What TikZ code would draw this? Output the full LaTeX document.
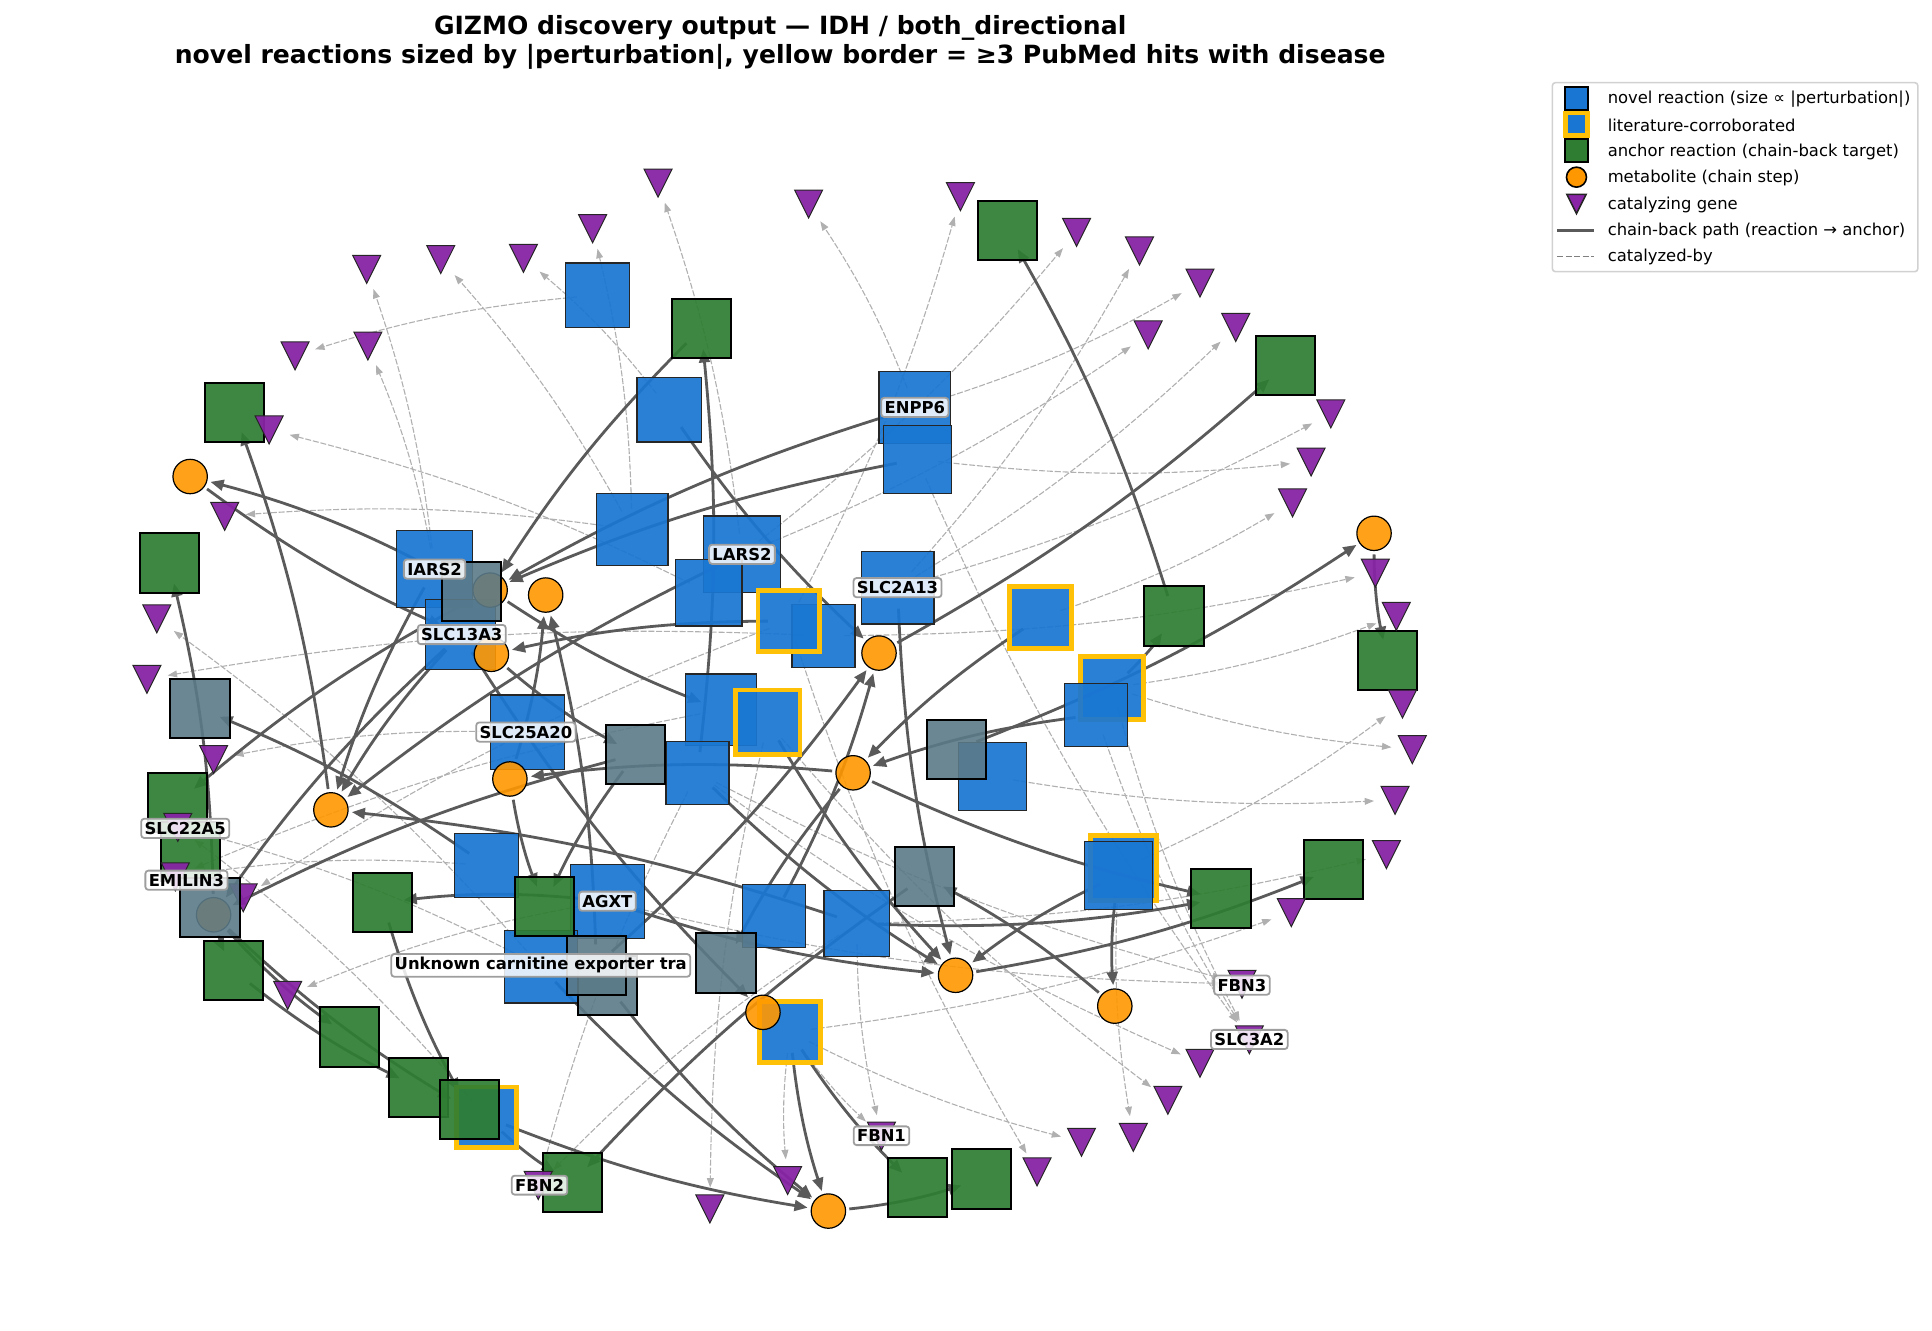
\documentclass[tikz,border=0pt]{standalone}
\usepackage{fontspec}
\setmainfont{DejaVu Sans}
\usetikzlibrary{arrows.meta}
\usetikzlibrary{backgrounds}
\usetikzlibrary{shapes.geometric}

\definecolor{novelblue}{HTML}{1976D2}
\definecolor{litgold}{HTML}{FFC107}
\definecolor{anchorgreen}{HTML}{2E7D32}
\definecolor{metorange}{HTML}{FF9800}
\definecolor{genepurple}{HTML}{8824A5}
\definecolor{mixgray}{HTML}{5B7A88}
\definecolor{chainline}{HTML}{5A5A5A}
\definecolor{catline}{HTML}{B0B0B0}

\tikzset{
  novel/.style={rectangle, inner sep=0pt, outer sep=0pt, draw=black!85, line width=0.6pt, fill=novelblue, fill opacity=0.93, minimum size=#1*0.6172pt},
  lit/.style={rectangle, inner sep=0pt, outer sep=0pt, draw=litgold, line width=2.4pt, fill=novelblue, fill opacity=0.93, minimum size=#1*0.6172pt},
  anchorsq/.style={rectangle, inner sep=0pt, outer sep=0pt, draw=black, line width=1pt, fill=anchorgreen, fill opacity=0.92, minimum size=29.6pt},
  mixsq/.style={anchorsq, fill=mixgray, fill opacity=0.9},
  met/.style={circle, inner sep=0pt, outer sep=0pt, draw=black, line width=0.6pt, fill=metorange, fill opacity=0.9, minimum size=17.2pt},
  gene/.style={isosceles triangle, isosceles triangle stretches, shape border rotate=-90, inner sep=0pt, outer sep=0pt, draw=black!85, line width=0.5pt, fill=genepurple, fill opacity=0.95, minimum width=14pt, minimum height=14pt, yshift=2.5pt},
  genelabel/.style={rectangle, rounded corners=1.5pt, inner sep=1.7pt, draw=black!38, line width=0.9pt, fill=white, fill opacity=0.85, text opacity=1, font=\fontsize{8.2}{10}\selectfont\bfseries},
  chain/.style={color=chainline, line width=1.4pt, -{Triangle[length=6.6pt,width=5.4pt]}, bend right=6, shorten >=10.5pt, shorten <=10.5pt},
  catal/.style={color=catline, line width=0.55pt, dash pattern=on 3pt off 0.9pt, -{Triangle[length=4.7pt,width=3.4pt]}, bend right=6, shorten >=10.5pt, shorten <=10.5pt},
  legendtext/.style={anchor=west, inner sep=0pt, font=\fontsize{8.2}{10}\selectfont},
  titletext/.style={inner sep=0pt, font=\fontsize{12.54}{15}\selectfont\bfseries}
}

\begin{document}
\begin{tikzpicture}[x=0.6172pt, y=-0.6172pt]
  \useasboundingbox (0,0) rectangle (1565,1077.4);

  \begin{scope}[xshift=-0.6pt]
  % novel reactions
  \node [novel=52] (r_1)  at (485,239) {};
  \node [novel=52] (r_2)  at (543,332) {};
  \node [novel=58] (r_3)  at (742,330) {};
  \node [novel=55] (r_4)  at (744,372) {};
  \node [novel=58] (r_5)  at (513,429) {};
  \node [novel=62] (r_6)  at (602,449) {};
  \node [novel=62] (r_7)  at (353,461) {};
  \node [novel=54] (r_8)  at (575,480) {};
  \node [novel=59] (r_9)  at (728,476) {};
  \node [novel=57] (r_10) at (374,514) {};
  \node [novel=51] (r_11) at (668,515) {};
  \node [novel=58] (r_16) at (585,575) {};
  \node [novel=60] (r_18) at (428,593) {};
  \node [novel=51] (r_19) at (566,626) {};
  \node [novel=55] (r_20) at (805,629) {};
  \node [novel=52] (r_21) at (395,701) {};
  \node [novel=60] (r_22) at (493,730) {};
  \node [novel=51] (r_23) at (628,742) {};
  \node [novel=53] (r_24) at (695,748) {};
  \node [novel=59] (r_27) at (439,783) {};

  % literature-corroborated ones
  \node [lit=50] (r_12) at (640,503) {};
  \node [lit=50] (r_13) at (844,500) {};
  \node [lit=51] (r_14) at (902,557) {};
  \node [lit=52] (r_17) at (623,585) {};
  \node [lit=53] (r_25) at (911,703) {};
  \node [lit=49] (r_28) at (641,836) {};
  \node [lit=49] (r_29) at (395,905) {};
  \node [novel=51] (r_15) at (889,579) {};
  \node [novel=55] (r_26) at (907,709) {};

  % anchors
  \node [anchorsq] (a_1)  at (569,266) {};
  \node [anchorsq] (a_2)  at (817,187) {};
  \node [anchorsq] (a_3)  at (1042,296) {};
  \node [anchorsq] (a_4)  at (191,334) {};
  \node [anchorsq] (a_5)  at (138,456) {};
  \node [anchorsq] (a_6)  at (952,499) {};
  \node [anchorsq] (a_7)  at (1125,535) {};
  \node [anchorsq] (a_8)  at (145,650) {};
  \node [anchorsq] (a_9)  at (155,690) {};
  \node [anchorsq] (a_10) at (311,731) {};
  \node [anchorsq] (a_11) at (442,734) {};
  \node [anchorsq] (a_12) at (990,728) {};
  \node [anchorsq] (a_13) at (1081,704) {};
  \node [anchorsq] (a_14) at (190,786) {};
  \node [anchorsq] (a_15) at (284,840) {};
  \node [anchorsq] (a_16) at (340,881) {};
  \node [anchorsq] (a_17) at (381,899) {};
  \node [anchorsq] (a_18) at (465,958) {};
  \node [anchorsq] (a_19) at (744,962) {};
  \node [anchorsq] (a_20) at (796,955) {};

  % metabolites
  \node [met] (m_1)  at (155,386) {};
  \node [met] (m_2)  at (398,478) {};
  \node [met] (m_3)  at (443,482) {};
  \node [met] (m_4)  at (399,530) {};
  \node [met] (m_5)  at (713,529) {};
  \node [met] (m_6)  at (1114,432) {};
  \node [met] (m_7)  at (692,626) {};
  \node [met] (m_8)  at (414,631) {};
  \node [met] (m_9)  at (269,656) {};
  \node [met] (m_10) at (174,741) {};
  \node [met] (m_11) at (775,790) {};
  \node [met] (m_12) at (904,815) {};
  \node [met] (m_13) at (619,820) {};
  \node [met] (m_14) at (672,981) {};

  % genes
  \node [gene] (g_1)  at (534,148) {};
  \node [gene] (g_2)  at (656,165) {};
  \node [gene] (g_3)  at (779,159) {};
  \node [gene] (g_4)  at (873,188) {};
  \node [gene] (g_5)  at (924,203) {};
  \node [gene] (g_6)  at (973,229) {};
  \node [gene] (g_7)  at (1002,265) {};
  \node [gene] (g_8)  at (931,271) {};
  \node [gene] (g_9)  at (1079,335) {};
  \node [gene] (g_10) at (1063,374) {};
  \node [gene] (g_11) at (1048,407) {};
  \node [gene] (g_12) at (1115,464) {};
  \node [gene] (g_13) at (1132,499) {};
  \node [gene] (g_14) at (1137,570) {};
  \node [gene] (g_15) at (1145,607) {};
  \node [gene] (g_16) at (1131,648) {};
  \node [gene] (g_17) at (1124,692) {};
  \node [gene] (g_18) at (1047,739) {};
  \node [gene] (g_19) at (1007,797) {};
  \node [gene] (g_20) at (1013,842) {};
  \node [gene] (g_21) at (973,861) {};
  \node [gene] (g_22) at (947,891) {};
  \node [gene] (g_23) at (919,921) {};
  \node [gene] (g_24) at (877,925) {};
  \node [gene] (g_25) at (841,949) {};
  \node [gene] (g_26) at (715,920) {};
  \node [gene] (g_27) at (639,956) {};
  \node [gene] (g_28) at (576,979) {};
  \node [gene] (g_29) at (437,960) {};
  \node [gene] (g_30) at (234,806) {};
  \node [gene] (g_31) at (198,727) {};
  \node [gene] (g_32) at (145,670) {};
  \node [gene] (g_33) at (143,710) {};
  \node [gene] (g_34) at (174,615) {};
  \node [gene] (g_35) at (120,550) {};
  \node [gene] (g_36) at (128,501) {};
  \node [gene] (g_37) at (183,418) {};
  \node [gene] (g_38) at (219,348) {};
  \node [gene] (g_39) at (240,288) {};
  \node [gene] (g_40) at (299,280) {};
  \node [gene] (g_41) at (298,218) {};
  \node [gene] (g_42) at (358,210) {};
  \node [gene] (g_43) at (425,209) {};
  \node [gene] (g_44) at (481,185) {};

  % reaction and anchor at once
  \node [mixsq] (h_1) at (383,479) {};
  \node [mixsq] (h_2) at (163,574) {};
  \node [mixsq] (h_3) at (516,611) {};
  \node [mixsq] (h_4) at (776,607) {};
  \node [mixsq] (h_5) at (750,710) {};
  \node [mixsq] (h_6) at (171,735) {};
  \node [mixsq] (h_7) at (589,780) {};
  \node [mixsq] (h_9) at (493,798) {};
  \node [mixsq] (h_8) at (484,782) {};

  % catalyzed-by
  \begin{scope}[on background layer]
    \path [catal] (r_6.center) edge ([yshift=-2.5pt]g_1.center)
                  (r_3.center) edge ([yshift=-2.5pt]g_2.center)
                  (r_12.center) edge ([yshift=-2.5pt]g_3.center)
                  (r_6.center) edge ([yshift=-2.5pt]g_4.center)
                  (r_9.center) edge ([yshift=-2.5pt]g_5.center)
                  (r_3.center) edge ([yshift=-2.5pt]g_6.center)
                  (r_9.center) edge ([yshift=-2.5pt]g_7.center)
                  (r_6.center) edge ([yshift=-2.5pt]g_8.center)
                  (r_9.center) edge ([yshift=-2.5pt]g_9.center)
                  (r_4.center) edge ([yshift=-2.5pt]g_10.center)
                  (r_13.center) edge ([yshift=-2.5pt]g_11.center)
                  (r_11.center) edge ([yshift=-2.5pt]g_12.center)
                  (r_14.center) edge ([yshift=-2.5pt]g_13.center)
                  (r_25.center) edge ([yshift=-2.5pt]g_14.center)
                  (r_14.center) edge ([yshift=-2.5pt]g_15.center)
                  (r_20.center) edge ([yshift=-2.5pt]g_16.center)
                  (r_24.center) edge ([yshift=-2.5pt]g_17.center)
                  (r_28.center) edge ([yshift=-2.5pt]g_18.center)
                  (r_19.center) edge ([yshift=-2.5pt]g_19.center)
                  (r_22.center) edge ([yshift=-2.5pt]g_19.center)
                  (r_14.center) edge ([yshift=-2.5pt]g_20.center)
                  (r_15.center) edge ([yshift=-2.5pt]g_20.center)
                  (r_4.center) edge ([yshift=-2.5pt]g_20.center)
                  (r_19.center) edge ([yshift=-2.5pt]g_21.center)
                  (r_17.center) edge ([yshift=-2.5pt]g_22.center)
                  (r_26.center) edge ([yshift=-2.5pt]g_23.center)
                  (r_28.center) edge ([yshift=-2.5pt]g_24.center)
                  (r_12.center) edge ([yshift=-2.5pt]g_25.center)
                  (r_28.center) edge ([yshift=-2.5pt]g_26.center)
                  (r_24.center) edge ([yshift=-2.5pt]g_26.center)
                  (r_28.center) edge ([yshift=-2.5pt]g_27.center)
                  (r_17.center) edge ([yshift=-2.5pt]g_28.center)
                  (r_19.center) edge ([yshift=-2.5pt]g_29.center)
                  (r_24.center) edge ([yshift=-2.5pt]g_29.center)
                  (r_22.center) edge ([yshift=-2.5pt]g_30.center)
                  (r_12.center) edge ([yshift=-2.5pt]g_31.center)
                  (r_27.center) edge ([yshift=-2.5pt]g_32.center)
                  (r_29.center) edge ([yshift=-2.5pt]g_32.center)
                  (r_16.center) edge ([yshift=-2.5pt]g_33.center)
                  (r_21.center) edge ([yshift=-2.5pt]g_33.center)
                  (r_18.center) edge ([yshift=-2.5pt]g_34.center)
                  (r_11.center) edge ([yshift=-2.5pt]g_35.center)
                  (r_27.center) edge ([yshift=-2.5pt]g_36.center)
                  (r_5.center) edge ([yshift=-2.5pt]g_37.center)
                  (r_8.center) edge ([yshift=-2.5pt]g_38.center)
                  (r_1.center) edge ([yshift=-2.5pt]g_39.center)
                  (r_7.center) edge ([yshift=-2.5pt]g_40.center)
                  (r_7.center) edge ([yshift=-2.5pt]g_41.center)
                  (r_5.center) edge ([yshift=-2.5pt]g_42.center)
                  (r_2.center) edge ([yshift=-2.5pt]g_43.center)
                  (r_5.center) edge ([yshift=-2.5pt]g_44.center);

    % chain-back
    \path [chain] (r_19.center) edge (a_1.center)
                  (a_1.center) edge (m_2.center)
                  (a_6.center) edge (a_2.center)
                  (m_5.center) edge (a_3.center)
                  (h_4.center) edge (m_6.center)
                  (r_7.center) edge (m_1.center)
                  (m_1.center) edge (r_10.center)
                  (m_9.center) edge (a_4.center)
                  (m_10.center) edge (a_5.center)
                  (r_3.center) edge (m_2.center)
                  (r_4.center) edge (m_2.center)
                  (m_8.center) edge (m_3.center)
                  (h_8.center) edge (m_3.center)
                  (r_12.center) edge (m_4.center)
                  (m_4.center) edge (h_3.center)
                  (r_10.center) edge (m_13.center)
                  (r_7.center) edge (m_9.center)
                  (r_10.center) edge (m_9.center)
                  (r_6.center) edge (m_9.center)
                  (m_2.center) edge (a_8.center)
                  (m_2.center) edge (r_16.center)
                  (r_10.center) edge (m_10.center)
                  (h_3.center) edge (m_10.center)
                  (m_7.center) edge (m_8.center)
                  (m_7.center) edge (a_12.center)
                  (m_7.center) edge (h_7.center)
                  (r_13.center) edge (m_7.center)
                  (r_15.center) edge (m_7.center)
                  (r_2.center) edge (m_5.center)
                  (r_9.center) edge (m_11.center)
                  (r_23.center) edge (m_5.center)
                  (h_8.center) edge (m_5.center)
                  (h_5.center) edge (a_18.center)
                  (r_22.center) edge (m_11.center)
                  (r_24.center) edge (m_9.center)
                  (r_19.center) edge (m_11.center)
                  (r_17.center) edge (m_11.center)
                  (r_26.center) edge (m_11.center)
                  (m_11.center) edge (a_13.center)
                  (r_26.center) edge (m_12.center)
                  (m_12.center) edge (h_5.center)
                  (r_28.center) edge (m_14.center)
                  (r_28.center) edge (a_19.center)
                  (m_14.center) edge (a_20.center)
                  (r_29.center) edge (m_14.center)
                  (r_27.center) edge (m_14.center)
                  (h_9.center) edge (m_14.center)
                  (r_14.center) edge (a_6.center)
                  (m_6.center) edge (a_7.center)
                  (a_14.center) edge (a_16.center)
                  (m_10.center) edge (a_15.center)
                  (m_10.center) edge (a_17.center)
                  (a_10.center) edge (a_17.center)
                  (r_22.center) edge (a_10.center)
                  (r_29.center) edge (a_18.center)
                  (m_10.center) edge (a_14.center)
                  (m_8.center) edge (a_11.center)
                  (h_3.center) edge (a_11.center)
                  (r_21.center) edge (h_2.center)
                  (r_24.center) edge (a_12.center);
  \end{scope}

  % labels
  \node [genelabel] (l_enpp)  at (742,330) {ENPP6};
  \node [genelabel] (l_lars)  at (602,449) {LARS2};
  \node [genelabel] (l_iars)  at (353,461) {IARS2};
  \node [genelabel] (l_slca)  at (728,476) {SLC2A13};
  \node [genelabel] (l_slcb)  at (375,514) {SLC13A3};
  \node [genelabel] (l_slcc)  at (427,593) {SLC25A20};
  \node [genelabel] (l_slcd)  at (151,671) {SLC22A5};
  \node [genelabel] (l_emil)  at (152,713) {EMILIN3};
  \node [genelabel] (l_agxt)  at (493,730) {AGXT};
  \node [genelabel] (l_carn)  at (439,782) {Unknown carnitine exporter tra};
  \node [genelabel] (l_fbnc)  at (1007,798) {FBN3};
  \node [genelabel] (l_slce)  at (1013,842) {SLC3A2};
  \node [genelabel] (l_fbna)  at (715,920) {FBN1};
  \node [genelabel] (l_fbnb)  at (438,960) {FBN2};
  \end{scope}

  % title
  \node [titletext] (t_1) at (632,23) {GIZMO discovery output — IDH / both\_directional};
  \node [titletext] (t_2) at (632,46) {novel reactions sized by |perturbation|, yellow border = ≥3 PubMed hits with disease};

  % legend
  \node [rectangle, rounded corners=1.5pt, draw=black!18, line width=0.8pt, minimum width=182.7pt, minimum height=94.5pt, inner sep=0pt] (box) at (1405.5,143.5) {};
  \node [novel=19, draw=black, line width=1pt, fill opacity=1] (k_1) at (1277,79.6) {};
  \node [lit=18, line width=2.4pt, fill opacity=1] (k_2) at (1277,100.6) {};
  \node [anchorsq, minimum size=11.7pt, fill opacity=1] (k_3) at (1277,122) {};
  \node [met, minimum size=10pt, fill opacity=1, line width=0.8pt] (k_4) at (1277,143.5) {};
  \node [gene, minimum width=9.6pt, minimum height=9.6pt, fill opacity=1, line width=0.8pt, yshift=-0.8pt] (k_5) at (1277,165) {};
  \coordinate (k_6a) at (1261.5,186.5);
  \coordinate (k_6b) at (1291,186.5);
  \coordinate (k_7a) at (1261.5,207.5);
  \coordinate (k_7b) at (1291,207.5);
  \draw [chainline, line width=1.4pt] (k_6a) -- (k_6b);
  \draw [black!50, line width=0.6pt, dash pattern=on 3pt off 1.2pt] (k_7a) -- (k_7b);
  \node [legendtext] (x_1) at (1302,80.6) {novel reaction (size ∝ |perturbation|)};
  \node [legendtext] (x_2) at (1302,101.6) {literature-corroborated};
  \node [legendtext] (x_3) at (1302,123) {anchor reaction (chain-back target)};
  \node [legendtext] (x_4) at (1302,144.5) {metabolite (chain step)};
  \node [legendtext] (x_5) at (1302,166) {catalyzing gene};
  \node [legendtext] (x_6) at (1302,187.5) {chain-back path (reaction → anchor)};
  \node [legendtext] (x_7) at (1302,208.5) {catalyzed-by};
\end{tikzpicture}
\end{document}
